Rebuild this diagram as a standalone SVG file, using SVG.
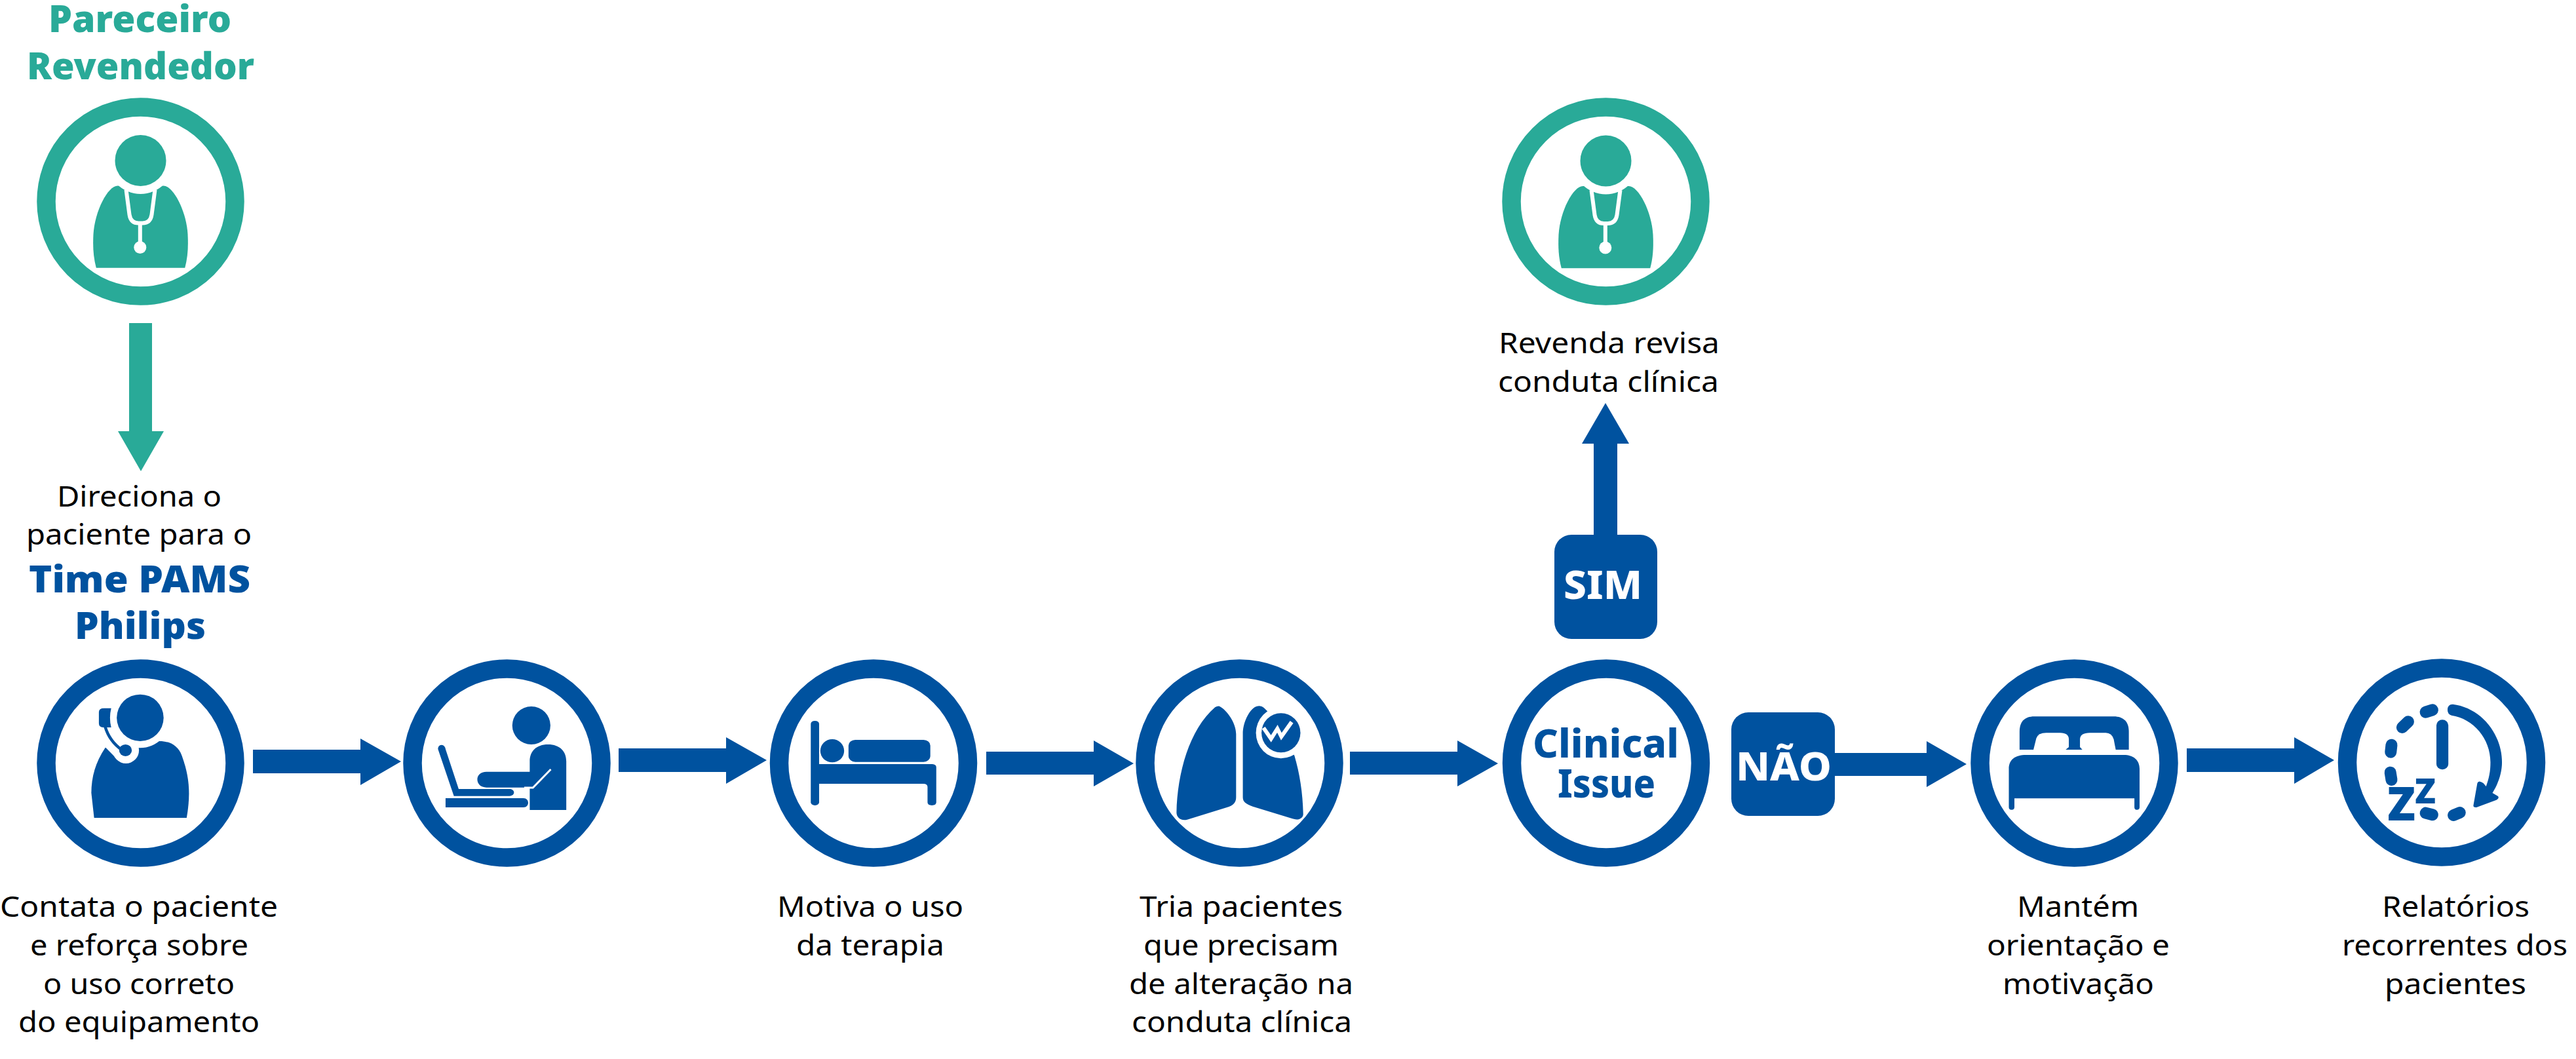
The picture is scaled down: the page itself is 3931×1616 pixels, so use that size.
<svg xmlns="http://www.w3.org/2000/svg" xmlns:xlink="http://www.w3.org/1999/xlink" width="3931" height="1616" viewBox="0 0 3931 1616">
<style>
.b{fill:#00529F}.t{fill:#29AA98}.w{fill:#fff}
.rb{fill:#fff;stroke:#00529F;stroke-width:28.5}
.rt{fill:#fff;stroke:#29AA98;stroke-width:28.5}
.wl{fill:none;stroke:#fff;vector-effect:non-scaling-stroke}
.dot{fill:none;stroke:#00529F;stroke-width:18;stroke-linecap:round;vector-effect:non-scaling-stroke}
text{font-family:"Noto Sans","Open Sans",sans-serif}
.l{font-size:44px;fill:#000}
.h{font-size:56px;font-weight:900}
.c{font-size:60px;font-weight:800}
.z{font-weight:900;fill:#00529F}
</style>
<defs>
<g id="doctor">
<path class="t" d="M-67.7,101.3 L67.7,101.3 C72,85 73,70 72,50 C70,15 50,-24 35,-24 C20,-24 -20,-24 -35,-24 C-50,-24 -70,15 -72,50 C-73,70 -72,85 -67.7,101.3 Z"/>
<circle class="w" cx="0" cy="-62.5" r="51"/>
<circle class="t" cx="0" cy="-62.5" r="39"/>
<path d="M-22,-18 L-17,20 Q-15,33 -3,33 L3,33 Q15,33 17,20 L22,-18 M-0.7,33 L-0.7,70" fill="none" stroke="#fff" stroke-width="6"/>
<circle class="w" cx="-0.7" cy="70" r="9.5"/>
</g>
</defs>
<rect width="3931" height="1616" fill="#fff"/>

<g id="connectors">
<polygon class="t" points="197,493 232,493 232,658 250,658 215,719 180,658 197,658"/>
<polygon class="b" points="386,1144 550,1144 550,1127 612,1162 550,1198 550,1180 386,1180"/>
<polygon class="b" points="944,1142 1108,1142 1108,1125 1170,1160 1108,1196 1108,1178 944,1178"/>
<polygon class="b" points="1505,1147 1669,1147 1669,1130 1730,1165 1669,1200 1669,1182 1505,1182"/>
<polygon class="b" points="2060,1147 2224,1147 2224,1130 2286,1165 2224,1200 2224,1182 2060,1182"/>
<polygon class="b" points="2432,816 2432,677 2414,677 2450,615 2486,677 2468,677 2468,816"/>
<polygon class="b" points="2800,1149 2940,1149 2940,1131 3001,1166 2940,1201 2940,1184 2800,1184"/>
<polygon class="b" points="3337,1142 3501,1142 3501,1125 3562,1160 3501,1196 3501,1178 3337,1178"/>
</g>

<g id="node-parceiro">
<text class="h t" x="74" y="49" textLength="279" lengthAdjust="spacingAndGlyphs">Pareceiro</text>
<text class="h t" x="41" y="121" textLength="347" lengthAdjust="spacingAndGlyphs">Revendedor</text>
<circle class="rt" cx="214.5" cy="307.5" r="144"/>
<use xlink:href="#doctor" href="#doctor" transform="translate(214.5,307.5)"/>
</g>

<g id="node-direciona">
<text class="l" x="87" y="773" textLength="251" lengthAdjust="spacingAndGlyphs">Direciona o</text>
<text class="l" x="40" y="831" textLength="344" lengthAdjust="spacingAndGlyphs">paciente para o</text>
<text class="h b" x="44" y="904" textLength="338" lengthAdjust="spacingAndGlyphs">Time PAMS</text>
<text class="h b" x="114" y="975" textLength="200" lengthAdjust="spacingAndGlyphs">Philips</text>
</g>

<g id="node-contata">
<circle class="rb" cx="214.5" cy="1164.5" r="144"/>
<g transform="translate(0,980) scale(0.606,0.3333)">
<path class="b" d="M237,804 L470,804 C480,700 478,620 458,520 C448,470 425,452 400,453 L265,483 C240,550 230,620 230,690 Z"/>
<ellipse class="w" cx="353" cy="346" rx="76" ry="138"/>
<ellipse class="w" cx="317" cy="495" rx="33" ry="60"/>
<path class="w" d="M262,475 L292,530 L300,470 Z"/>
<ellipse class="b" cx="353" cy="346" rx="59" ry="107"/>
<ellipse class="b" cx="316" cy="495" rx="16" ry="27"/>
<path d="M265,388 C272,430 285,465 307,493" fill="none" stroke="#00529F" stroke-width="4.5" style="vector-effect:non-scaling-stroke"/>
<path class="b" d="M280,302 L262,302 Q249,302 249,320 L249,372 Q249,390 262,390 L280,390 Q274,346 280,302 Z"/>
</g>
<text class="l" x="0" y="1399" textLength="424" lengthAdjust="spacingAndGlyphs">Contata o paciente</text>
<text class="l" x="46" y="1458" textLength="333" lengthAdjust="spacingAndGlyphs">e reforça sobre</text>
<text class="l" x="66" y="1517" textLength="292" lengthAdjust="spacingAndGlyphs">o uso correto</text>
<text class="l" x="28" y="1575" textLength="368" lengthAdjust="spacingAndGlyphs">do equipamento</text>
</g>

<g id="node-laptop">
<circle class="rb" cx="773.5" cy="1164.5" r="144"/>
<g transform="translate(0,980) scale(0.606,0.3333)">
<ellipse class="b" cx="1338" cy="381" rx="48" ry="87"/>
<path class="b" d="M1334,768 L1426,768 L1426,545 C1426,500 1410,468 1380,468 C1350,468 1334,500 1334,545 L1334,593 L1225,593 C1210,593 1202,610 1202,628 C1202,648 1210,665 1225,665 L1334,665 Z"/>
<path class="wl" d="M1387,582 L1342,666 L1320,666" stroke-width="3"/>
<path class="b" d="M1103,490 Q1103,470 1112,470 Q1120,470 1122,490 L1155,672 L1283,672 C1298,672 1298,704 1283,704 L1143,704 Z"/>
<path class="b" d="M1122,714 L1318,714 C1334,714 1334,756 1318,756 L1122,756 Z"/>
</g>
</g>

<g id="node-motiva">
<circle class="rb" cx="1333" cy="1164.5" r="144"/>
<g transform="translate(1130,980) scale(0.606,0.3333)">
<rect class="b" x="177" y="360" width="21" height="387" rx="10" ry="14"/>
<path class="b" d="M190,558 L483,558 Q493,560 493,572 L493,733 Q493,747 482,747 Q471,747 471,733 L471,662 Q471,648 460,648 L190,648 Z"/>
<ellipse class="b" cx="231" cy="497" rx="30" ry="53"/>
<rect class="b" x="272" y="447" width="206" height="101" rx="17" ry="26"/>
</g>
<text class="l" x="1186" y="1399" textLength="284" lengthAdjust="spacingAndGlyphs">Motiva o uso</text>
<text class="l" x="1215" y="1458" textLength="226" lengthAdjust="spacingAndGlyphs">da terapia</text>
</g>

<g id="node-tria">
<circle class="rb" cx="1891.5" cy="1164.5" r="144"/>
<g transform="translate(1130,980) scale(0.606,0.3333)">
<path class="b" d="M1206,293 C1225,310 1248,370 1248,420 L1248,710 C1248,735 1240,748 1225,756 L1125,812 C1108,820 1098,800 1098,780 C1100,600 1130,400 1195,298 Q1200,292 1206,293 Z"/>
<path class="b" d="M1265,710 L1265,420 C1265,370 1280,310 1298,295 Q1310,286 1318,300 L1340,340 L1395,520 C1408,600 1416,690 1417,785 C1418,805 1405,818 1390,808 L1290,752 C1272,740 1265,730 1265,710 Z"/>
<ellipse class="w" cx="1361" cy="415" rx="63" ry="117"/>
<ellipse class="b" cx="1361" cy="415" rx="49" ry="90"/>
<path class="wl" d="M1317,392 L1336,442 L1352,396 L1362,432 L1388,365" stroke-width="6"/>
</g>
<text class="l" x="1739" y="1399" textLength="310" lengthAdjust="spacingAndGlyphs">Tria pacientes</text>
<text class="l" x="1745" y="1458" textLength="298" lengthAdjust="spacingAndGlyphs">que precisam</text>
<text class="l" x="1723" y="1517" textLength="342" lengthAdjust="spacingAndGlyphs">de alteração na</text>
<text class="l" x="1727" y="1575" textLength="336" lengthAdjust="spacingAndGlyphs">conduta clínica</text>
</g>

<g id="node-clinical">
<circle class="rb" cx="2451" cy="1164.5" r="144"/>
<text class="c b" x="2339" y="1156" textLength="223" lengthAdjust="spacingAndGlyphs">Clinical</text>
<text class="c b" x="2377" y="1217" textLength="149" lengthAdjust="spacingAndGlyphs">Issue</text>
</g>

<g id="node-sim">
<rect class="b" x="2372" y="816" width="157" height="159" rx="26"/>
<text class="c w" x="2386" y="914" textLength="120" lengthAdjust="spacingAndGlyphs">SIM</text>
</g>

<g id="node-nao">
<rect class="b" x="2642" y="1087" width="158" height="158" rx="26"/>
<text class="c w" x="2649" y="1191" textLength="146" lengthAdjust="spacingAndGlyphs">NÃO</text>
</g>

<g id="node-revenda">
<circle class="rt" cx="2450.5" cy="307.5" r="144"/>
<use xlink:href="#doctor" href="#doctor" transform="translate(2450.5,308)"/>
<text class="l" x="2287" y="539" textLength="337" lengthAdjust="spacingAndGlyphs">Revenda revisa</text>
<text class="l" x="2286" y="598" textLength="337" lengthAdjust="spacingAndGlyphs">conduta clínica</text>
</g>

<g id="node-mantem">
<circle class="rb" cx="3165.5" cy="1164.5" r="144"/>
<g transform="translate(2980,980) scale(0.6064,0.3333)">
<path class="b" d="M168,492 L168,410 C168,365 180,340 205,340 L405,340 C430,340 443,365 443,410 L443,492 Z"/>
<path class="w" d="M203,492 L210,440 Q215,415 235,415 L270,415 Q292,415 292,445 L292,480 L284,492 Z"/>
<path class="w" d="M326,492 L320,480 L320,445 Q320,415 345,415 L385,415 Q400,415 405,445 L410,492 Z"/>
<path class="b" d="M141,755 L141,580 C141,540 155,516 185,516 L430,516 C455,516 470,540 470,580 L470,755 Q470,767 463,767 Q457,767 457,755 L457,715 L155,715 L155,755 Q155,767 148,767 Q141,767 141,755 Z"/>
</g>
<text class="l" x="3078" y="1399" textLength="186" lengthAdjust="spacingAndGlyphs">Mantém</text>
<text class="l" x="3032" y="1458" textLength="279" lengthAdjust="spacingAndGlyphs">orientação e</text>
<text class="l" x="3056" y="1517" textLength="231" lengthAdjust="spacingAndGlyphs">motivação</text>
</g>

<g id="node-relatorios">
<circle class="rb" cx="3726" cy="1163.5" r="144"/>
<g transform="translate(2980,980) scale(0.6064,0.3333)">
<rect class="b" x="1217" y="355" width="30" height="228" rx="15" ry="25"/>
<path class="dot" d="M1207,310 L1190,320"/>
<path class="dot" d="M1146,364 L1131,390"/>
<path class="dot" d="M1104,470 L1102,503"/>
<path class="dot" d="M1101,596 L1104,630"/>
<path class="dot" d="M1190,782 L1207,790"/>
<path class="dot" d="M1260,792 L1276,780"/>
<path class="b" d="M1258,284 C1330,300 1382,420 1382,550 C1382,600 1372,650 1358,690 L1372,705 Q1376,715 1368,722 L1318,756 Q1310,758 1310,748 L1320,645 Q1323,630 1335,645 L1342,660 C1350,620 1353,590 1353,550 C1353,440 1310,350 1255,335 Q1245,330 1245,310 Q1245,284 1258,284 Z"/>
</g>
<text class="z" x="3643" y="1252" font-size="70" textLength="43" lengthAdjust="spacingAndGlyphs">Z</text>
<text class="z" x="3685" y="1226" font-size="53" textLength="32" lengthAdjust="spacingAndGlyphs">Z</text>
<text class="l" x="3635" y="1399" textLength="225" lengthAdjust="spacingAndGlyphs">Relatórios</text>
<text class="l" x="3574" y="1458" textLength="344" lengthAdjust="spacingAndGlyphs">recorrentes dos</text>
<text class="l" x="3639" y="1517" textLength="216" lengthAdjust="spacingAndGlyphs">pacientes</text>
</g>
</svg>
